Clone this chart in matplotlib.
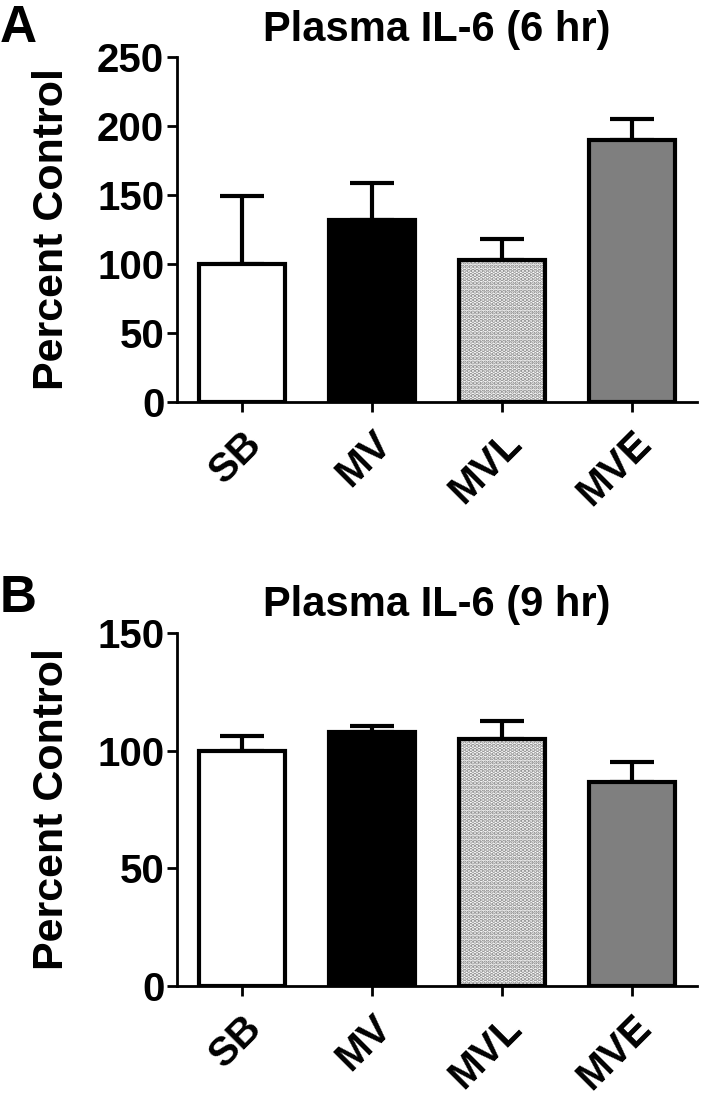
import numpy as np
import matplotlib
matplotlib.use("Agg")
import matplotlib.pyplot as plt

plt.rcParams['font.family'] = ['Liberation Sans', 'DejaVu Sans']
plt.rcParams['font.weight'] = 'bold'
plt.rcParams['hatch.linewidth'] = 2.2

groups = ['SB', 'MV', 'MVL', 'MVE']
il6_6hr = [100, 132, 103, 190]
il6_6hr_err = [49, 27, 15, 15]
il6_9hr = [100, 108, 105, 86.5]
il6_9hr_err = [6.3, 2.3, 7.5, 8.5]

fills = ['white', 'black', 'white', '#7f7f7f']
hatches = [None, None, '....', None]


def draw_panel(ax, vals, errs, ymax, ystep, title):
    x = np.arange(len(groups))
    ax.errorbar(x, vals, yerr=[np.zeros(len(vals)), errs], fmt='none',
                ecolor='black', elinewidth=3, capsize=16, capthick=3, zorder=1)
    for i in range(len(groups)):
        if hatches[i]:
            ax.bar(x[i], vals[i], width=0.66, color='white', hatch=hatches[i],
                   edgecolor='#8a8a8a', linewidth=0, zorder=2)
            ax.bar(x[i], vals[i], width=0.66, fill=False, edgecolor='black',
                   linewidth=3, zorder=3)
        else:
            ax.bar(x[i], vals[i], width=0.66, color=fills[i], edgecolor='black',
                   linewidth=3, zorder=2)
    ax.set_xlim(-0.5, 3.5)
    ax.set_ylim(0, ymax)
    ax.set_yticks(np.arange(0, ymax + 1, ystep))
    ax.set_xticks(x)
    # top-right anchor puts the rotated labels a bit right of the ticks
    ax.set_xticklabels(groups, rotation=45, ha='right', va='top',
                       rotation_mode='anchor', fontsize=29, fontweight='bold')
    ax.tick_params(axis='y', labelsize=29, length=7, width=2, pad=2)
    ax.tick_params(axis='x', length=7, width=2, pad=9)
    for lab in ax.get_yticklabels():
        lab.set_fontweight('bold')
    ax.spines['top'].set_visible(False)
    ax.spines['right'].set_visible(False)
    ax.spines['left'].set_linewidth(2)
    ax.spines['bottom'].set_linewidth(2)
    ax.set_ylabel('Percent Control', fontsize=31, fontweight='bold', labelpad=18)
    ax.set_title(title, fontsize=30, fontweight='bold', pad=12)


fig = plt.figure(figsize=(7.07, 11.01), dpi=100)
ax1 = fig.add_axes([0.250, 0.635, 0.736, 0.313])
ax2 = fig.add_axes([0.250, 0.1045, 0.736, 0.3205])

draw_panel(ax1, il6_6hr, il6_6hr_err, 250, 50, 'Plasma IL-6 (6 hr)')
draw_panel(ax2, il6_9hr, il6_9hr_err, 150, 50, 'Plasma IL-6 (9 hr)')

fig.text(0.0, 0.996, 'A', fontsize=37, fontweight='bold', va='top', ha='left')
fig.text(0.0, 0.479, 'B', fontsize=37, fontweight='bold', va='top', ha='left')

fig.savefig('out.png', dpi=100)
